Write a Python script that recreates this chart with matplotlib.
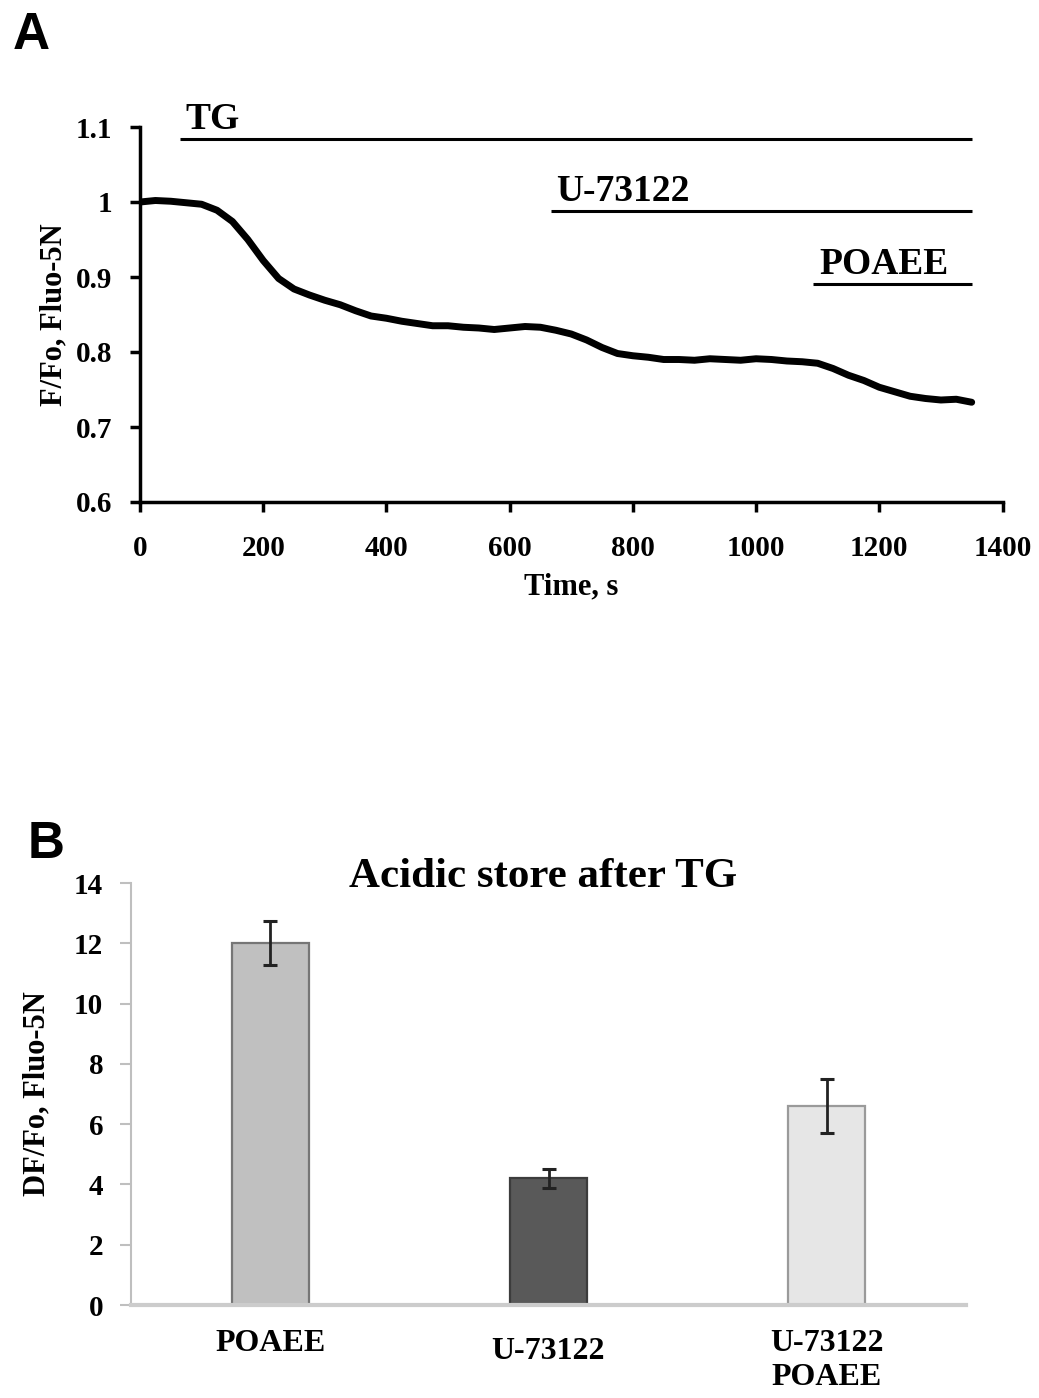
import numpy as np
import matplotlib
matplotlib.use('Agg')
import matplotlib.pyplot as plt
from matplotlib.transforms import ScaledTranslation

plt.rcParams['font.family'] = ['Liberation Serif', 'DejaVu Serif']
plt.rcParams['font.weight'] = 'bold'

# Panel A: registro Fluo-5N (F/Fo) cada 25 s
tiempo = np.arange(0, 1351, 25)
senal = [1.000, 1.002, 1.001, 0.999, 0.997, 0.989, 0.974, 0.950, 0.922, 0.898,
         0.884, 0.876, 0.869, 0.863, 0.855, 0.848, 0.845, 0.841, 0.838, 0.835,
         0.835, 0.833, 0.832, 0.830, 0.832, 0.834, 0.833, 0.829, 0.824, 0.816,
         0.806, 0.798, 0.795, 0.793, 0.790, 0.790, 0.789, 0.791, 0.790, 0.789,
         0.791, 0.790, 0.788, 0.787, 0.785, 0.778, 0.769, 0.762, 0.753, 0.747,
         0.741, 0.738, 0.736, 0.737, 0.733]

# barras de aplicacion de drogas
drogas = ['TG', 'U-73122', 'POAEE']
drogas_inicio = [65, 667, 1093]
drogas_fin = [1350, 1350, 1350]
drogas_nivel = [1.084, 0.988, 0.891]

x_ticks_a = [0, 200, 400, 600, 800, 1000, 1200, 1400]
y_ticks_a = [0.6, 0.7, 0.8, 0.9, 1.0, 1.1]
y_labels_a = ['0.6', '0.7', '0.8', '0.9', '1', '1.1']

# Panel B: barras
grupos = ['POAEE', 'U-73122', 'U-73122\nPOAEE']
medias = [12.0, 4.2, 6.6]
errores = [0.73, 0.32, 0.9]
colores = ['#c0c0c0', '#595959', '#e6e6e6']
bordes = ['#767676', '#3c3c3c', '#9a9a9a']

W, H = 1039, 1398
fig = plt.figure(figsize=(W / 100, H / 100), dpi=100)

# ---------- Panel A ----------
ax = fig.add_axes([140 / W, 1 - 502 / H, 862.5 / W, 375 / H])
ax.plot(tiempo, senal, color='black', lw=5, solid_capstyle='round')
for nombre, x0, x1, y in zip(drogas, drogas_inicio, drogas_fin, drogas_nivel):
    ax.hlines(y, x0, x1, color='black', lw=2.2)
    ax.text(x0 + 9, y + 0.013, nombre, fontsize=27, fontweight='bold',
            ha='left', va='baseline')

ax.set_xlim(0, 1400)
ax.set_ylim(0.6, 1.1)
ax.set_xticks(x_ticks_a)
ax.set_yticks(y_ticks_a)
ax.set_yticklabels(y_labels_a)
for s in ['top', 'right']:
    ax.spines[s].set_visible(False)
for s in ['left', 'bottom']:
    ax.spines[s].set_linewidth(2.5)
ax.tick_params(direction='out', length=7, width=2.5, labelsize=21)
ax.tick_params(axis='x', pad=17)
ax.tick_params(axis='y', pad=13)
ax.set_xlabel('Time, s', fontsize=22, fontweight='bold', labelpad=7)
ax.set_ylabel('F/Fo, Fluo-5N', fontsize=22, fontweight='bold', labelpad=5)

fig.text(13 / W, 1 - 49 / H, 'A', fontsize=37, fontweight='bold',
         family='Liberation Sans', va='baseline')

# ---------- Panel B ----------
bx = fig.add_axes([131 / W, 1 - 1305 / H, 835 / W, 422 / H])
pos = np.arange(len(grupos))
bx.bar(pos, medias, width=0.277, color=colores, edgecolor=bordes, linewidth=1.6,
       yerr=errores, capsize=5,
       error_kw=dict(ecolor='#222222', elinewidth=2, capthick=2.2))
bx.set_xlim(-0.5, 2.5)
bx.set_ylim(0, 14)
bx.set_yticks(np.arange(0, 15, 2))
bx.set_xticks(pos)
bx.set_xticklabels(grupos, fontsize=23, fontweight='bold', linespacing=1.25)
for s in ['top', 'right']:
    bx.spines[s].set_visible(False)
bx.spines['left'].set_color('#bfbfbf')
bx.spines['left'].set_linewidth(1.5)
bx.spines['bottom'].set_color('#cccccc')
bx.spines['bottom'].set_linewidth(3)
bx.tick_params(axis='y', direction='out', length=8, width=1.5, color='#bfbfbf',
               labelsize=21, pad=12)
bx.tick_params(axis='x', length=0, pad=17)

# etiqueta del medio un poco mas abajo
etiq = bx.get_xticklabels()[1]
etiq.set_transform(etiq.get_transform() + ScaledTranslation(0, -0.08, fig.dpi_scale_trans))

bx.text(0.493, 0.99, 'Acidic store after TG', transform=bx.transAxes,
        ha='center', va='baseline', fontsize=31, fontweight='bold')
bx.set_ylabel('DF/Fo, Fluo-5N', fontsize=22, fontweight='bold', labelpad=16)

fig.text(28 / W, 1 - 858 / H, 'B', fontsize=37, fontweight='bold',
         family='Liberation Sans', va='baseline')

fig.savefig('out.png', dpi=100)
